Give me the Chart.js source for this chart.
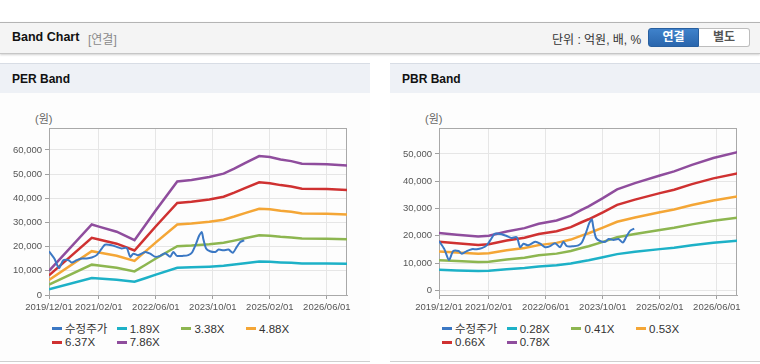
<!DOCTYPE html>
<html>
<head>
<meta charset="utf-8">
<script src="https://cdn.jsdelivr.net/npm/chart.js@4.4.1/dist/chart.umd.min.js"></script>
<style>
  body { margin: 0; width: 760px; height: 364px; background: #fff; position: relative; overflow: hidden;
         font-family: "Liberation Sans", "Noto Sans CJK KR", sans-serif; color: #222; }
  .top { position: absolute; left: 0; top: 22px; width: 760px; height: 30px; background: #f4f4f4;
         border-top: 1px solid #b4b4b4; border-bottom: 1px solid #c6c6c6; box-shadow: 0 1px 2px rgba(0,0,0,.18); }
  .top .ttl { position: absolute; left: 12px; top: 7px; font-size: 12.5px; font-weight: bold; color: #111; }
  .top .sub { position: absolute; left: 88px; top: 7px; font-size: 12px; color: #8a8a8a; }
  .top .unit { position: absolute; left: 552px; top: 7px; font-size: 12px; color: #333; }
  .btn { position: absolute; top: 5px; height: 19px; width: 51px; font-size: 12px; font-weight: bold;
         text-align: center; line-height: 17px; box-sizing: border-box; }
  .btn.on { left: 648px; background: linear-gradient(#3f82cb, #2a66ad); color: #fff; border: 1px solid #285f9f;
            border-radius: 3px 0 0 3px; }
  .btn.off { left: 699px; width: 51px; background: #fff; color: #555; border: 1px solid #bdbdbd; border-left: none;
             border-radius: 0 3px 3px 0; }
  .panel { position: absolute; top: 63px; width: 370px; height: 298px; background: #fdfdfd; border-bottom: 1px solid #cfcfcf; }
  .panel .head { height: 29px; background: #eef1f6; border-top: 1px solid #d8dde5; }
  .panel .head span { position: absolute; left: 12px; top: 9px; font-size: 12px; font-weight: bold; color: #111; }
  .panel .unitlbl { position: absolute; left: 35px; top: 47px; font-size: 11px; color: #666; }
  .panel .box { position: absolute; left: 0; top: 30px; width: 370px; height: 222px; }
  .legend { position: absolute; left: 52px; top: 260px; width: 300px; font-size: 11.5px; color: #333; }
  .legend .it { position: absolute; white-space: nowrap; line-height: 13px; }
  .legend .it i { display: inline-block; width: 10px; height: 3px; vertical-align: middle; margin-right: 3px; position: relative; top: -1px; }
</style>
</head>
<body>
<div class="top">
  <span class="ttl">Band Chart</span><span class="sub">[연결]</span>
  <span class="unit">단위 : 억원, 배, %</span>
  <div class="btn on">연결</div><div class="btn off">별도</div>
</div>

<div class="panel" style="left:0">
  <div class="head"><span>PER Band</span></div>
  <div class="unitlbl">(원)</div>
  <div class="box"><canvas id="per" width="370" height="222"></canvas></div>
  <div class="legend" id="perLegend"></div>
</div>

<div class="panel" style="left:390px">
  <div class="head"><span>PBR Band</span></div>
  <div class="unitlbl">(원)</div>
  <div class="box"><canvas id="pbr" width="370" height="222"></canvas></div>
  <div class="legend" id="pbrLegend"></div>
</div>

<script>
// x axis: months counted from 2019/12
const tickLabels = ['2019/12/01', '2021/02/01', '2022/06/01', '2023/10/01', '2025/02/01', '2026/06/01'];
const perYTicks = [0, 10000, 20000, 30000, 40000, 50000, 60000];
const pbrYTicks = [0, 10000, 20000, 30000, 40000, 50000];

// adjusted price (same for both charts)
const priceMonths = [0, 1.5, 2.8, 4, 5.5, 6.4, 7.8, 9.2, 10.6, 12, 13.4, 14.8, 15.7, 17.6, 19, 20.4, 21.8, 22.8, 23.7, 25,
  27, 28.4, 29.8, 31.2, 32.6, 34, 34.9, 35.9, 37.7, 39.1, 40.1, 41.3, 42.2, 42.9, 43.3, 44.1, 45.2, 46.7, 47.6, 49,
  50.4, 51.6, 52.7, 53.7, 54.8];
const priceValues = [18100, 15100, 11100, 14400, 14400, 13400, 14400, 15100, 15100, 15500, 16500, 19200, 20800, 20600, 19900, 19200, 19500, 15800, 17100, 16500,
  17800, 17100, 15800, 16200, 17300, 15800, 17800, 16200, 16200, 16500, 17500, 21300, 24700, 26000, 23300, 19200, 18100, 17800, 18800, 18500,
  18800, 17500, 19900, 21900, 22600];

// PER bands
const perNames = ['수정주가', '1.89X', '3.38X', '4.88X', '6.37X', '7.86X'];
const perMonths = [0, 12, 14, 19, 24, 27, 30, 36, 40, 45, 49, 52, 55, 59, 62, 65, 68, 71, 78, 84];
const per189 = [2400, 7020, 6800, 6300, 5460, 6950, 8440, 11300, 11450, 11730, 12070, 12580, 13130, 13830, 13730, 13490, 13320, 13060, 13010, 12890];
const per338 = [4300, 12560, 12170, 11270, 9760, 12430, 15090, 20210, 20470, 20990, 21590, 22490, 23480, 24730, 24550, 24120, 23820, 23350, 23260, 23050];
const per488 = [6200, 18130, 17570, 16270, 14090, 17940, 21790, 29180, 29550, 30300, 31170, 32470, 33900, 35700, 35450, 34830, 34400, 33710, 33590, 33280];
const per637 = [8100, 23660, 22940, 21230, 18400, 23420, 28450, 38090, 38580, 39550, 40680, 42390, 44250, 46600, 46280, 45470, 44900, 44010, 43840, 43440];
const per786 = [10000, 29200, 28300, 26200, 22700, 28900, 35100, 47000, 47600, 48800, 50200, 52300, 54600, 57500, 57100, 56100, 55400, 54300, 54100, 53600];

// PBR bands
const pbrNames = ['수정주가', '0.28X', '0.41X', '0.53X', '0.66X', '0.78X'];
const pbrMonths = [0, 5, 11, 14, 19, 24, 28, 33, 37, 40, 42, 46, 50, 55, 62, 66, 71, 77, 84];
const pbr028 = [7540, 7320, 7070, 7180, 7750, 8180, 8760, 9190, 9840, 10590, 11060, 12130, 13280, 14110, 15110, 15650, 16510, 17410, 18200];
const pbr041 = [11040, 10720, 10360, 10510, 11350, 11980, 12830, 13460, 14400, 15510, 16190, 17770, 19450, 20660, 22130, 22920, 24180, 25490, 26650];
const pbr053 = [14270, 13860, 13390, 13590, 14680, 15490, 16580, 17400, 18620, 20050, 20930, 22970, 25140, 26700, 28610, 29630, 31260, 32960, 34450];
const pbr066 = [17770, 17260, 16670, 16920, 18280, 19290, 20650, 21660, 23180, 24960, 26060, 28600, 31310, 33250, 35620, 36890, 38920, 41040, 42900];
const pbr078 = [21000, 20400, 19700, 20000, 21600, 22800, 24400, 25600, 27400, 29500, 30800, 33800, 37000, 39300, 42100, 43600, 46000, 48500, 50700];

const colors = ['#3b78c4', '#1db1c7', '#8db650', '#f4a636', '#cf3131', '#8f4d9d'];

const tickMonths = tickLabels.map(s => {
  const [y, m] = s.split('/').map(Number);
  return (y - 2019) * 12 + m - 12;
});

const font = { family: '"Liberation Sans", Arial, sans-serif', size: 9.5 };

// draws the box around the plot area
const frame = {
  id: 'frame',
  beforeDatasetsDraw(chart) {
    const { ctx, chartArea: a } = chart;
    ctx.save();
    ctx.strokeStyle = '#a9a9a9';
    ctx.lineWidth = 1;
    ctx.strokeRect(Math.round(a.left) + 0.5, Math.round(a.top) + 0.5, Math.round(a.right - a.left) - 1, Math.round(a.bottom - a.top));
    ctx.restore();
  }
};

function pts(xs, ys) {
  return xs.map((x, i) => ({ x: x, y: ys[i] }));
}

function makeChart(id, names, months, bands, yTicks, yMin, yMax) {
  const datasets = [{
    label: names[0], data: pts(priceMonths, priceValues),
    borderColor: colors[0], borderWidth: 2, tension: 0.25
  }];
  bands.forEach((b, i) => {
    datasets.push({ label: names[i + 1], data: pts(months, b), borderColor: colors[i + 1], borderWidth: 2.5, tension: 0 });
  });

  new Chart(document.getElementById(id), {
    type: 'line',
    data: { datasets: datasets },
    options: {
      responsive: false,
      animation: false,
      layout: { padding: { left: 0, right: 23, top: 35, bottom: 0 } },
      elements: { point: { radius: 0 } },
      plugins: { legend: { display: false }, tooltip: { enabled: false } },
      scales: {
        x: {
          type: 'linear', min: 0, max: 83.65,
          afterBuildTicks: s => { s.ticks = tickMonths.map(v => ({ value: v })); },
          afterFit: s => { s.height = 20; },
          ticks: { callback: (v, i) => tickLabels[i], autoSkip: false, maxRotation: 0, font: font, color: '#555', padding: 3 },
          grid: { color: '#e6e6e6', tickColor: '#a0a0a0', tickLength: 4 },
          border: { color: '#a9a9a9' }
        },
        y: {
          min: yMin, max: yMax,
          afterBuildTicks: s => { s.ticks = yTicks.map(v => ({ value: v })); },
          afterFit: s => { s.width = 49; },
          ticks: { callback: v => v.toLocaleString('en-US'), font: font, color: '#555', padding: 3 },
          grid: { color: '#e6e6e6', tickColor: '#a0a0a0', tickLength: 4 },
          border: { color: '#a9a9a9' }
        }
      }
    },
    plugins: [frame]
  });
}

function makeLegend(id, names) {
  const box = document.getElementById(id);
  names.forEach((n, i) => {
    const d = document.createElement('div');
    d.className = 'it';
    d.style.left = ((i % 4) * 64.7) + 'px';
    d.style.top = (Math.floor(i / 4) * 13.3) + 'px';
    d.innerHTML = '<i style="background:' + colors[i] + '"></i>' + n;
    box.appendChild(d);
  });
}

makeChart('per', perNames, perMonths, [per189, per338, per488, per637, per786], perYTicks, 0, 69100);
makeChart('pbr', pbrNames, pbrMonths, [pbr028, pbr041, pbr053, pbr066, pbr078], pbrYTicks, -1700, 59500);
makeLegend('perLegend', perNames);
makeLegend('pbrLegend', pbrNames);
</script>
</body>
</html>
